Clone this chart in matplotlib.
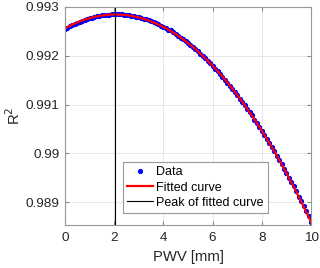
import numpy as np
import matplotlib
matplotlib.use("Agg")
import matplotlib.pyplot as plt

pwv = [round(0.1 * i, 1) for i in range(101)]
r2 = [
    0.992550, 0.992578, 0.992605, 0.992631, 0.992655, 0.992678, 0.992699, 0.992719,
    0.992737, 0.992755, 0.992770, 0.992784, 0.992797, 0.992809, 0.992819, 0.992827,
    0.992835, 0.992840, 0.992845, 0.992848, 0.992850, 0.992850, 0.992849, 0.992846,
    0.992842, 0.992837, 0.992830, 0.992822, 0.992813, 0.992802, 0.992790, 0.992777,
    0.992762, 0.992745, 0.992728, 0.992709, 0.992688, 0.992666, 0.992643, 0.992619,
    0.992593, 0.992566, 0.992537, 0.992522, 0.992490, 0.992443, 0.992409, 0.992374,
    0.992337, 0.992299, 0.992260, 0.992219, 0.992177, 0.992133, 0.992089, 0.992042,
    0.991995, 0.991946, 0.991896, 0.991845, 0.991792, 0.991738, 0.991682, 0.991625,
    0.991567, 0.991508, 0.991447, 0.991385, 0.991322, 0.991257, 0.991191, 0.991123,
    0.991055, 0.990985, 0.990913, 0.990852, 0.990778, 0.990692, 0.990615, 0.990537,
    0.990458, 0.990378, 0.990296, 0.990213, 0.990129, 0.990043, 0.989956, 0.989868,
    0.989778, 0.989688, 0.989596, 0.989502, 0.989407, 0.989322, 0.989226, 0.989116,
    0.989016, 0.988915, 0.988813, 0.988709, 0.988604,
]

x = np.array(pwv)
y = np.array(r2)

# quadratic fit and its peak
coef = np.polyfit(x, y, 2)
xf = np.linspace(0, 10, 400)
yf = np.polyval(coef, xf)
x_peak = -coef[1] / (2 * coef[0])

plt.rcParams["font.family"] = ["Liberation Sans", "DejaVu Sans"]

fig = plt.figure(figsize=(3.2, 2.68), dpi=100)
ax = fig.add_axes([0.203, 0.160, 0.769, 0.814])

ax.plot(x, y, ".", color="blue", markersize=5.5, label="Data")
ax.plot(xf, yf, "-", color="red", linewidth=1.6, label="Fitted curve")
ax.axvline(x_peak, color="black", linewidth=0.8, label="Peak of fitted curve")

ax.set_xlim(0, 10)
ax.set_ylim(0.98853, 0.993)
ax.set_xticks([0, 2, 4, 6, 8, 10])
ax.set_yticks([0.989, 0.99, 0.991, 0.992, 0.993])
ax.set_yticklabels(["0.989", "0.99", "0.991", "0.992", "0.993"])
ax.grid(True, color="#e6e6e6", linewidth=0.7)
ax.set_axisbelow(True)
ax.tick_params(direction="in", length=3, top=True, right=True, labelsize=9.7,
               color="#888888", labelcolor="#262626")
ax.tick_params(axis="x", pad=5)
ax.tick_params(axis="y", pad=4)
for s in ax.spines.values():
    s.set_color("#999999")
    s.set_linewidth(0.8)

ax.set_xlabel("PWV [mm]", fontsize=10.7, color="#262626", labelpad=4.5)
ax.set_ylabel("R$^2$", fontsize=10.7, color="#262626", labelpad=2)

leg = ax.legend(loc="lower left", bbox_to_anchor=(0.235, 0.055), fontsize=9,
                frameon=True, fancybox=False, framealpha=1, edgecolor="#999999",
                handlelength=2.05, borderpad=0.35, labelspacing=0.25,
                handletextpad=0.25, borderaxespad=0)
leg.get_frame().set_linewidth(0.8)

fig.savefig("out.png", dpi=100)
